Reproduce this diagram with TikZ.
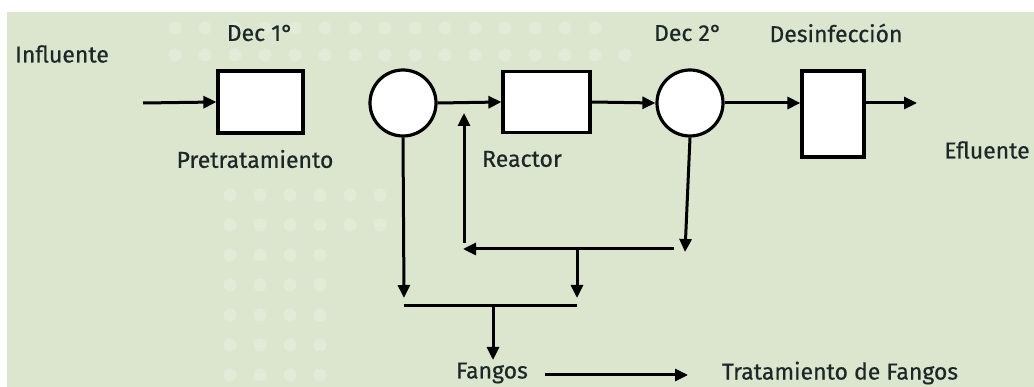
\documentclass[tikz,border=0pt]{standalone}
\usepackage{fontspec}
\setmainfont{Fira Sans}[UprightFeatures={FakeBold=0.5}]
\usetikzlibrary{arrows.meta}
\definecolor{bggreen}{RGB}{220,230,207}
\definecolor{dotgreen}{RGB}{226,235,215}
\definecolor{txt}{RGB}{28,40,40}
\tikzset{
  box/.style={draw=black, line width=3.2pt, fill=white, inner sep=0pt, rectangle},
  tank/.style={draw=black, line width=3.2pt, fill=white, inner sep=0pt, circle, minimum size=66pt},
  lbl/.style={text=txt, font=\fontsize{23}{27}\selectfont, inner sep=0pt},
  flow/.style={line width=3pt, -{Triangle[length=13pt,width=12pt]}},
  pipe/.style={line width=3pt}
}
\begin{document}
\begin{tikzpicture}[x=1pt,y=-1pt]
\useasboundingbox (0,0) rectangle (1034,387);
\fill[white] (0,0) rectangle (1034,387);
\fill[bggreen] (7,12) rectangle (1034,387);
% faint dotted background texture
\foreach \x in {175,205,235,265,295,325,355,385,415,445,475,505,535,565,595}
  \fill[dotgreen] (\x,28) circle (6.5);
\foreach \x in {175,205,235,265,295,325,355,385,415,445,475,505,535,565,595,625}
  \fill[dotgreen] (\x,55) circle (6.5);
\foreach \y in {195,225,255,285,315,345,375}
  \foreach \x in {230,260,290,320}
    \fill[dotgreen] (\x,\y) circle (6.5);
\foreach \y in {195,225}
  \foreach \x in {350,380}
    \fill[dotgreen] (\x,\y) circle (6.5);

% process units
\node[box, minimum width=85pt, minimum height=62pt] (pre) at (260.5,102) {};
\node[tank] (c1) at (403,103) {};
\node[box, minimum width=87pt, minimum height=61pt] (reac) at (546.5,102) {};
\node[tank] (c2) at (690,103) {};
\node[box, minimum width=62pt, minimum height=86pt] (des) at (833,114) {};

% labels
\node[lbl] (linf) at (62,54) {Influente};
\node[lbl] (ldec1) at (260,33) {Dec 1°};
\node[lbl] (lpre) at (255,159) {Pretratamiento};
\node[lbl] (lreac) at (522,159) {Reactor};
\node[lbl] (ldec2) at (688,33) {Dec 2°};
\node[lbl] (ldes) at (836,33) {Desinfección};
\node[lbl] (lefl) at (987,150) {Efluente};
\node[lbl] (lfan) at (492,373) {Fangos};
\node[lbl] (ltf) at (840,373) {Tratamiento de Fangos};

% coordinates
\coordinate (in) at (143,103);
\coordinate (out) at (917,103);
\coordinate (c1d) at (404,298);
\coordinate (c2d) at (685,252);
\coordinate (hR) at (674,249);
\coordinate (hL) at (463,249);
\coordinate (rcB) at (464,243);
\coordinate (rcT) at (464,113);
\coordinate (b1T) at (577,249);
\coordinate (b1B) at (577,298);
\coordinate (h2L) at (404,306);
\coordinate (h2R) at (577,306);
\coordinate (b2T) at (493,306);
\coordinate (b2B) at (493,360);
\coordinate (fa) at (545,375);
\coordinate (fb) at (688,375);

% main flow
\draw[flow] (in) -- (pre.west);
\draw[flow] (c1.east) -- (reac.west);
\draw[flow] (reac.east) -- (c2.west);
\draw[flow] (c2.east) -- (des.west |- c2.east);
\draw[flow] (des.east |- out) -- (out);

% sludge lines
\draw[flow] (c1.south) -- (c1d);
\draw[flow] (c2.south) -- (c2d);
\draw[flow] (hR) -- (hL);
\draw[flow] (rcB) -- (rcT);
\draw[flow] (b1T) -- (b1B);
\draw[pipe] (h2L) -- (h2R);
\draw[flow] (b2T) -- (b2B);
\draw[flow] (fa) -- (fb);
\end{tikzpicture}
\end{document}
